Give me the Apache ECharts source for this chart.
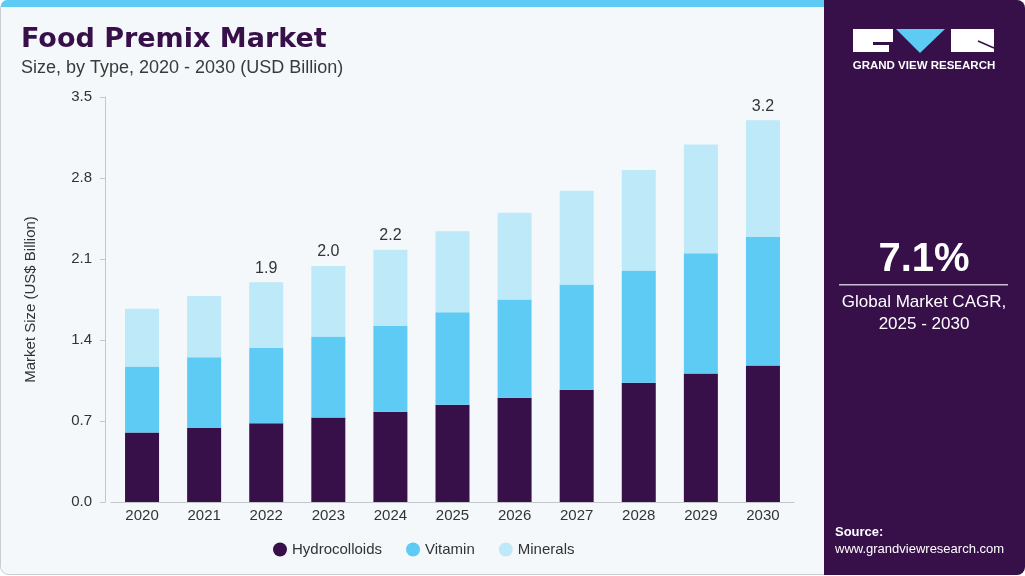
<!DOCTYPE html>
<html><head><meta charset="utf-8">
<script src="https://cdn.jsdelivr.net/npm/echarts@6/dist/echarts.min.js"></script>
<style>html,body{margin:0;padding:0;background:#fff}#c{width:1025px;height:576px}</style>
</head><body><div id="c"></div>
<script>
const years = ['2020','2021','2022','2023','2024','2025','2026','2027','2028','2029','2030'];
const hydrocolloids = [0.60,0.64,0.68,0.73,0.78,0.84,0.90,0.97,1.03,1.11,1.18];
const vitamin = [0.57,0.61,0.65,0.70,0.74,0.80,0.85,0.91,0.97,1.04,1.11];
const minerals = [0.50,0.53,0.57,0.61,0.66,0.70,0.75,0.81,0.87,0.94,1.01];
const totalLabels = ['','','1.9','2.0','2.2','','','','','','3.2'];
const yTicks = ['0.0','0.7','1.4','2.1','2.8','3.5'];

const chart = echarts.init(document.getElementById('c'), null, {renderer:'canvas'});
const FONT = '"Liberation Sans", Arial, sans-serif';
const option = {
  backgroundColor: 'transparent',
  animation: false,
  textStyle: {fontFamily: FONT},
  grid: {left: 111, right: 231, top: 97, bottom: 74},
  legend: {
    data: ['Hydrocolloids','Vitamin','Minerals'],
    left: 268, top: 537, icon: 'circle', itemWidth: 14, itemHeight: 14, itemGap: 24,
    textStyle: {color: '#333', fontSize: 15, fontFamily: FONT}
  },
  xAxis: {
    type: 'category', data: years,
    axisLine: {lineStyle: {color: '#c4c7ca'}},
    axisTick: {show: false},
    axisLabel: {color: '#333', fontSize: 15, margin: 6}
  },
  yAxis: {
    type: 'value', min: 0, max: 3.5, interval: 0.7, offset: 6,
    name: 'Market Size (US$ Billion)', nameLocation: 'middle', nameGap: 67,
    nameTextStyle: {color: '#333', fontSize: 15},
    axisLine: {show: true, lineStyle: {color: '#c4c7ca'}},
    axisTick: {show: true, length: 5, inside: false, lineStyle: {color: '#c4c7ca'}},
    splitLine: {show: false},
    axisLabel: {color: '#333', fontSize: 15, margin: 13,
      formatter: (v) => yTicks[Math.round(v/0.7)] ?? ''}
  },
  series: [
    {name:'Hydrocolloids', type:'bar', stack:'t', data: hydrocolloids, barWidth: 34, itemStyle:{color:'#37104a'}},
    {name:'Vitamin', type:'bar', stack:'t', data: vitamin, itemStyle:{color:'#5ecbf5'}},
    {name:'Minerals', type:'bar', stack:'t', data: minerals, itemStyle:{color:'#bde9f9'},
     label: {show: true, position: 'top', distance: 6, color: '#333', fontSize: 16,
       formatter: (p) => totalLabels[p.dataIndex]}}
  ],
  graphic: [
    {type:'rect', z:-10, shape:{x:0.5,y:0.5,width:1023,height:574,r:8}, style:{fill:'#f4f8fb', stroke:'#c9ccd0', lineWidth:1}},
    {type:'rect', z:-9, shape:{x:1,y:0,width:823,height:7,r:[6,0,0,0]}, style:{fill:'#5ecbf5'}},
    {type:'rect', z:-8, shape:{x:824,y:0,width:201,height:575,r:[0,8,8,0]}, style:{fill:'#37104a'}},
    {type:'text', left:21, top:26, style:{text:'Food Premix Market', fill:'#37104a', font:'bold 27px "DejaVu Sans", sans-serif'}},
    {type:'text', left:21, top:59, style:{text:'Size, by Type, 2020 - 2030 (USD Billion)', fill:'#3a3a3a', font:'18px '+FONT}},
    // logo
    {type:'polygon', shape:{points:[[853,29],[893,29],[893,42],[873,42],[873,45],[889,45],[889,52],[853,52]]}, style:{fill:'#fff'}},
    {type:'polygon', shape:{points:[[896,29],[945,29],[920,53]]}, style:{fill:'#5ecbf5'}},
    {type:'polygon', shape:{points:[[951,29],[994,29],[994,52],[951,52]]}, style:{fill:'#fff'}},
    {type:'polyline', shape:{points:[[978,41],[994,48]]}, style:{stroke:'#37104a', lineWidth:1.5}},
    {type:'text', x:924, y:60, style:{text:'GRAND VIEW RESEARCH', fill:'#fff', font:'bold 11.5px '+FONT, align:'center'}},
    // CAGR
    {type:'text', x:924, y:240, style:{text:'7.1%', fill:'#fff', font:'bold 40px '+FONT, align:'center'}},
    {type:'rect', shape:{x:839,y:284,width:169,height:1.5}, style:{fill:'#c9c0d0'}},
    {type:'text', x:924, y:294, style:{text:'Global Market CAGR,', fill:'#fff', font:'17px '+FONT, align:'center'}},
    {type:'text', x:924, y:316, style:{text:'2025 - 2030', fill:'#fff', font:'17px '+FONT, align:'center'}},
    {type:'text', x:835, y:526, style:{text:'Source:', fill:'#fff', font:'bold 13px '+FONT}},
    {type:'text', x:835, y:543, style:{text:'www.grandviewresearch.com', fill:'#fff', font:'13px '+FONT}}
  ]
};
chart.setOption(option);
</script></body></html>
